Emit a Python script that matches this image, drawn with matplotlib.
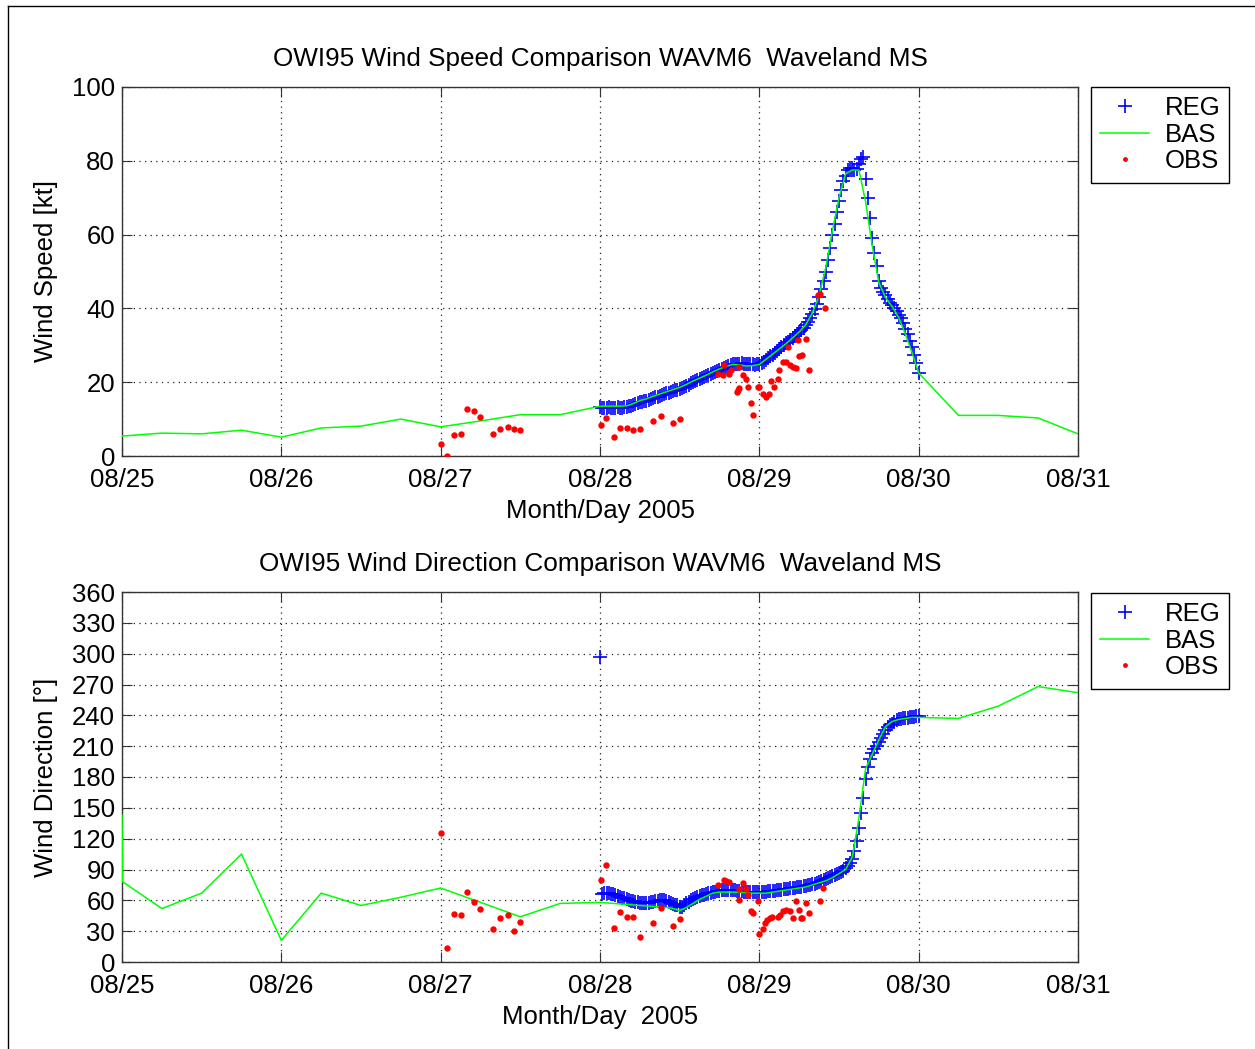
import numpy as np
import matplotlib.pyplot as plt

plt.rcParams['font.family'] = ['Liberation Sans', 'DejaVu Sans']

# x axis: days since 08/25 00:00
day_ticks = [0, 1, 2, 3, 4, 5, 6]
day_labels = ['08/25', '08/26', '08/27', '08/28', '08/29', '08/30', '08/31']

# ---------------- wind speed [kt] ----------------
# BAS: 6-hourly before 08/28, hourly 08/28-08/30, 6-hourly after
bas_head_t = [0, 0.25, 0.5, 0.75, 1.0, 1.25, 1.5, 1.75, 2.0, 2.25, 2.5, 2.75]
bas_spd_head = [5.4, 6.2, 6.0, 7.0, 5.1, 7.6, 8.1, 10.0, 7.9, 9.5, 11.2, 11.2]
bas_spd_mid = [13.5, 13.5, 13.5, 13.5, 13.6, 14.2, 15.0, 15.5, 16.2, 16.8, 17.4, 18.0,
               18.6, 19.4, 20.3, 21.1, 21.9, 22.8, 23.6, 24.3, 24.8, 24.7, 24.4, 24.5,
               24.8, 26.2, 27.6, 29.0, 30.4, 32.0, 33.6, 35.6, 38.8, 43.5, 51.0, 61.0,
               70.0, 76.5, 77.5, 77.5, 69.0, 57.0, 47.0, 43.0, 40.5, 37.5, 33.0, 28.0,
               22.5]
bas_tail_t = [5.25, 5.5, 5.75, 6.0]
bas_spd_tail = [11.0, 11.0, 10.3, 6.0]

# REG: every 20 min from 08/28 00:00 to 08/30 00:00
reg_spd = [13.2, 13.0, 13.1, 13.0, 13.2, 13.0, 13.1, 13.0, 13.2, 13.0, 13.1, 13.2,
           13.3, 13.5, 13.6, 13.8, 14.0, 14.3, 14.5, 14.6, 14.8, 15.0, 15.3, 15.5,
           15.7, 15.9, 16.1, 16.3, 16.5, 16.8, 17.0, 17.2, 17.4, 17.6, 17.8, 18.0,
           18.2, 18.5, 18.7, 19.0, 19.3, 19.7, 20.0, 20.3, 20.5, 20.8, 21.1, 21.3,
           21.6, 21.9, 22.2, 22.5, 22.8, 23.0, 23.3, 23.6, 23.9, 24.2, 24.4, 24.6,
           24.8, 24.9, 25.0, 25.0, 25.1, 25.0, 25.0, 24.9, 24.8, 24.8, 24.7, 24.8,
           25.0, 25.3, 25.6, 26.0, 26.5, 27.0, 27.5, 28.0, 28.5, 29.0, 29.5, 30.0,
           30.5, 31.0, 31.5, 32.0, 32.5, 33.0, 33.5, 34.1, 34.8, 35.5, 36.4, 37.4,
           38.5, 39.8, 41.3, 43.0, 45.2, 47.5, 50.0, 53.0, 56.5, 60.0, 63.0, 66.0,
           69.0, 72.0, 74.5, 76.0, 77.5, 78.0, 78.0, 77.5, 77.8, 79.0, 80.5, 81.0,
           75.0, 70.0, 64.5, 59.0, 55.0, 51.5, 47.5, 45.5, 44.5, 43.5, 42.5, 41.5,
           40.8, 40.0, 39.3, 38.3, 37.3, 36.0, 34.5, 33.0, 31.3, 29.5, 27.5, 25.3,
           22.5]

obs_spd_t = [2.003, 2.04, 2.084, 2.13, 2.168, 2.21, 2.25, 2.33, 2.375, 2.42, 2.46, 2.50,
             3.004, 3.04, 3.09, 3.126, 3.17, 3.21, 3.25, 3.335, 3.38, 3.46, 3.50,
             3.74, 3.775, 3.78, 3.81, 3.82, 3.86, 3.865, 3.87, 3.872, 3.90, 3.915, 3.93,
             3.945, 3.96, 3.99, 4.0, 4.025, 4.04, 4.06, 4.075, 4.09, 4.12, 4.125, 4.15,
             4.17, 4.18, 4.19, 4.21, 4.23, 4.24, 4.25, 4.27, 4.29, 4.31, 4.37, 4.38, 4.41]
obs_spd = [3.2, 0.0, 5.6, 6.0, 12.7, 12.2, 10.5, 6.0, 7.3, 7.9, 7.3, 7.0,
           8.3, 10.2, 5.1, 7.7, 7.7, 7.0, 7.3, 9.6, 10.9, 8.9, 9.9,
           22.2, 22.0, 24.7, 22.2, 23.3, 17.4, 17.9, 24.2, 18.3, 22.0, 20.8, 18.6,
           14.4, 11.1, 18.6, 18.6, 16.8, 16.1, 16.8, 20.4, 18.6, 21.0, 23.3, 25.6,
           25.6, 29.6, 24.7, 24.2, 23.9, 31.4, 27.1, 27.4, 31.6, 23.3, 43.6, 43.9, 40.0]

# ---------------- wind direction [deg] ----------------
bas_dir_head_t = [0, 0.004, 0.25, 0.5, 0.75, 1.0, 1.25, 1.5, 1.75, 2.0, 2.25, 2.5, 2.75]
bas_dir_head = [143, 78, 52, 67, 105, 21, 67, 55, 63, 72, 58, 44, 57]
bas_dir_mid = [58, 57.5, 57, 56.5, 56, 55.5, 55, 54.5, 54, 53.5, 53, 52,
               50, 53, 57, 61, 64, 67, 68, 68, 68, 68, 67.5, 67,
               67, 67, 68, 69, 70, 71, 72, 73, 75, 77, 79, 82,
               86, 90, 102, 140, 188, 202, 216, 229, 234, 236, 237, 238,
               238]
bas_dir_tail = [237, 249, 268, 262]

reg_dir = [297, 66, 67, 67, 67, 66, 66, 65, 64, 63, 62, 62,
           61, 60, 59, 59, 58, 58, 57, 57, 57, 57, 57, 58,
           58, 59, 59, 60, 60, 60, 59, 58, 57, 56, 55, 55,
           54, 54, 55, 57, 58, 60, 61, 62, 63, 64, 65, 65,
           66, 67, 67, 68, 68, 69, 69, 70, 70, 70, 70, 70,
           70, 70, 69, 69, 69, 68, 68, 68, 68, 68, 68, 68,
           68, 68, 68, 68, 69, 69, 69, 69, 70, 70, 70, 71,
           71, 71, 72, 72, 72, 73, 73, 73, 74, 74, 75, 75,
           76, 76, 77, 78, 79, 80, 81, 82, 83, 84, 85, 86,
           87, 88, 89, 91, 93, 96, 100, 108, 118, 130, 145, 160,
           178, 190, 198, 203, 207, 210, 214, 218, 222, 226, 229, 231,
           232, 234, 235, 236, 236, 237, 237, 237, 238, 238, 238, 239,
           239]

obs_dir_t = [2.003, 2.04, 2.084, 2.13, 2.168, 2.21, 2.25, 2.33, 2.375, 2.42, 2.46, 2.50,
             3.004, 3.04, 3.09, 3.126, 3.17, 3.21, 3.25, 3.335, 3.38, 3.46, 3.50,
             3.74, 3.78, 3.79, 3.81, 3.87, 3.872, 3.90, 3.915, 3.93, 3.95, 3.96, 3.99,
             4.0, 4.02, 4.035, 4.05, 4.07, 4.08, 4.12, 4.13, 4.15, 4.17, 4.19, 4.21,
             4.23, 4.25, 4.26, 4.27, 4.29, 4.31, 4.38, 4.40]
obs_dir = [126, 14, 47, 46, 68, 58, 52, 32, 43, 46, 30, 39,
           80, 94, 33, 49, 43.5, 43.5, 24, 38, 53, 35, 42,
           75, 80, 79, 78, 71, 60, 77, 71, 65, 50, 48, 59,
           27, 32, 38, 41, 42.5, 44, 44, 46, 50, 51, 50, 42.5,
           59, 51, 43, 43, 57, 48, 59, 72]

reg_t = 3 + np.arange(len(reg_spd)) / 72.0
bas_mid_t = 3 + np.arange(len(bas_spd_mid)) / 24.0
bas_t = np.concatenate([bas_head_t, bas_mid_t, bas_tail_t])
bas_spd = np.concatenate([bas_spd_head, bas_spd_mid, bas_spd_tail])
bas_dir_t = np.concatenate([bas_dir_head_t, bas_mid_t, bas_tail_t])
bas_dir = np.concatenate([bas_dir_head, bas_dir_mid, bas_dir_tail])

W, H = 1255, 1049
fig = plt.figure(figsize=(W / 100, H / 100), dpi=100)

# outer frame
fig.add_artist(plt.Line2D([8 / W, 8 / W], [0, 1 - 6 / H], transform=fig.transFigure, color='k', lw=1))
fig.add_artist(plt.Line2D([8 / W, 1], [1 - 6 / H, 1 - 6 / H], transform=fig.transFigure, color='k', lw=1))

ax1 = fig.add_axes([122 / W, 1 - 456 / H, 956 / W, 369 / H])
ax2 = fig.add_axes([122 / W, 1 - 962 / H, 956 / W, 370 / H])

fs = 18.5
tfs = 18.8
green = '#00ff00'


def style(ax, yticks):
    ax.set_xlim(0, 6)
    ax.set_xticks(day_ticks)
    ax.set_xticklabels(day_labels)
    ax.set_yticks(yticks)
    ax.set_ylim(yticks[0], yticks[-1])
    ax.tick_params(direction='in', length=7, width=0.8, top=True, right=True,
                   labelsize=fs, pad=5, color='#333333')
    ax.tick_params(axis='x', pad=8.5)
    ax.grid(True, linestyle=(0, (1, 3.5)), color='#222222', linewidth=0.9)
    for s in ax.spines.values():
        s.set_color('#333333')
        s.set_linewidth(1.0)


# top panel
ax1.plot(reg_t, reg_spd, '+', color='#0000ff', ms=10.5, mew=1.2, label='REG', zorder=3)
ax1.plot(bas_t, bas_spd, '-', color=green, lw=1.1, label='BAS', zorder=4)
ax1.plot(obs_spd_t, obs_spd, 'o', color='#ff0000', ms=4.6, mew=0, label='OBS', zorder=5)
style(ax1, [0, 20, 40, 60, 80, 100])
ax1.set_title('OWI95 Wind Speed Comparison WAVM6  Waveland MS', fontsize=tfs, pad=15)
ax1.set_ylabel('Wind Speed [kt]', fontsize=fs, labelpad=10)
ax1.set_xlabel('Month/Day 2005', fontsize=fs, labelpad=5.5)

# bottom panel
ax2.plot(reg_t, reg_dir, '+', color='#0000ff', ms=10.5, mew=1.2, label='REG', zorder=3)
ax2.plot(bas_dir_t, bas_dir, '-', color=green, lw=1.1, label='BAS', zorder=4)
ax2.plot(obs_dir_t, obs_dir, 'o', color='#ff0000', ms=4.6, mew=0, label='OBS', zorder=5)
style(ax2, list(range(0, 361, 30)))
ax2.set_title('OWI95 Wind Direction Comparison WAVM6  Waveland MS', fontsize=tfs, pad=15)
ax2.set_ylabel('Wind Direction [°]', fontsize=fs, labelpad=10)
ax2.set_xlabel('Month/Day  2005', fontsize=fs, labelpad=5.5)

for ax, top in [(ax1, 87), (ax2, 593)]:
    leg = ax.legend(loc='upper left', bbox_to_anchor=(1091 / W, 1 - top / H),
                    bbox_transform=fig.transFigure, borderaxespad=0, fontsize=fs,
                    fancybox=False, framealpha=1, edgecolor='k', numpoints=1,
                    handlelength=1.9, handletextpad=0.6, labelspacing=0.1,
                    borderpad=0.36)
    leg.get_frame().set_linewidth(1.0)
    for h in leg.legend_handles:
        if h.get_label() == 'OBS':
            h.set_markersize(3.5)

fig.savefig('out.png', dpi=100)
